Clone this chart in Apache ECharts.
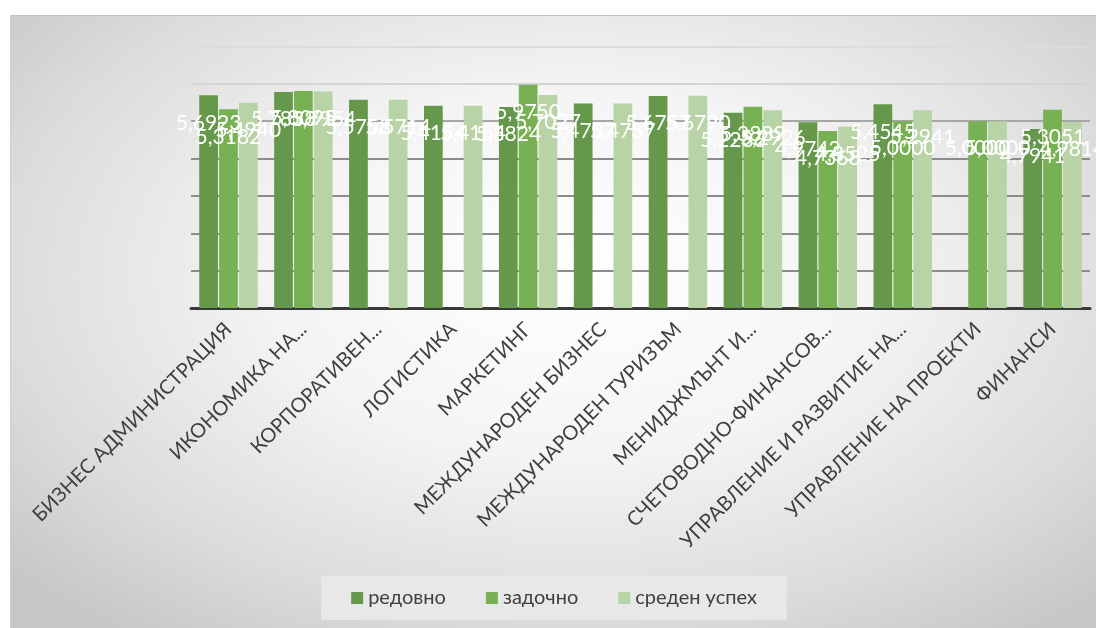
<!DOCTYPE html>
<html>
<head>
<meta charset="utf-8">
<script src="https://cdn.jsdelivr.net/npm/echarts@6/dist/echarts.min.js"></script>
<style>
html,body{margin:0;padding:0;background:#ffffff;width:1096px;height:628px;overflow:hidden;}
#panel{position:absolute;left:10px;top:15px;width:1086px;height:613px;
 background:radial-gradient(ellipse 70% 75% at 52% 42%, #ffffff 0%, #f4f4f4 40%, #dcdcdc 75%, #c6c6c6 100%);
 border-top:1px solid #c4c4c4;border-left:1px solid #cfcfcf;box-sizing:border-box;}
#chart{position:absolute;left:0;top:0;width:1086px;height:613px;}
</style>
</head>
<body>
<div id="panel"><div id="chart"></div></div>
<script>
const categories = ['БИЗНЕС АДМИНИСТРАЦИЯ','ИКОНОМИКА НА...','КОРПОРАТИВЕН...','ЛОГИСТИКА','МАРКЕТИНГ','МЕЖДУНАРОДЕН БИЗНЕС','МЕЖДУНАРОДЕН ТУРИЗЪМ','МЕНИДЖМЪНТ И...','СЧЕТОВОДНО-ФИНАНСОВ...','УПРАВЛЕНИЕ И РАЗВИТИЕ НА...','УПРАВЛЕНИЕ НА ПРОЕКТИ','ФИНАНСИ'];
const seriesNames = ['редовно','задочно','среден успех'];
const redovno  = [5.6923, 5.7838, 5.5758, 5.4154, 5.3824, 5.4737, 5.6757, 5.2286, 4.9742, 5.4545, null, 4.7941];
const zadochno = [5.3182, 5.8095, null, null, 5.9750, null, null, 5.3889, 4.7368, 5.0000, 5.0000, 5.3051];
const sreden   = [5.4940, 5.7954, 5.5714, 5.4154, 5.7027, 5.4737, 5.6790, 5.2926, 4.8525, 5.2941, 5.0000, 4.9814];
const colors = ['#65984a', '#78b153', '#b8d3a6'];

const chart = echarts.init(document.getElementById('chart'));
const label = {
  show: true,
  position: 'insideTop',
  distance: 17,
  color: '#ffffff',
  fontSize: 21,
  fontFamily: 'Lato',
  formatter: p => p.value == null ? '' : p.value.toFixed(4).replace('.', ',')
};
function mk(name, data, color) {
  return {
    name, type: 'bar', data,
    barGap: '6%', barCategoryGap: '22%',
    itemStyle: { color },
    label
  };
}
chart.setOption({
  backgroundColor: 'transparent',
  color: colors,
  animation: false,
  grid: { left: 180, right: 7, top: 30.5, bottom: 321 },
  xAxis: {
    type: 'category',
    data: categories,
    axisTick: { show: false },
    axisLine: { lineStyle: { color: '#3a3a3a', width: 3 } },
    axisLabel: { rotate: 45, fontSize: 20, fontFamily: 'Lato', color: '#404040', margin: 18, interval: 0 }
  },
  yAxis: {
    type: 'value',
    min: 0, max: 7, interval: 1,
    axisLabel: { show: false },
    axisLine: { show: false },
    axisTick: { show: false },
    splitLine: { lineStyle: { width: 2, color: ['#3a3a3a', '#8c8c8c', '#8c8c8c', '#8c8c8c', '#8c8c8c', '#a6a6a6', '#d4d4d4', '#dcdcdc'] } }
  },
  legend: {
    data: seriesNames,
    bottom: 9,
    left: 'center',
    icon: 'rect',
    itemWidth: 12, itemHeight: 12,
    itemGap: 40,
    padding: [12, 30],
    backgroundColor: '#e8e8e8',
    textStyle: { fontSize: 20, fontFamily: 'Lato', color: '#404040' }
  },
  series: [
    mk(seriesNames[0], redovno, colors[0]),
    mk(seriesNames[1], zadochno, colors[1]),
    mk(seriesNames[2], sreden, colors[2])
  ]
});
</script>
</body>
</html>
